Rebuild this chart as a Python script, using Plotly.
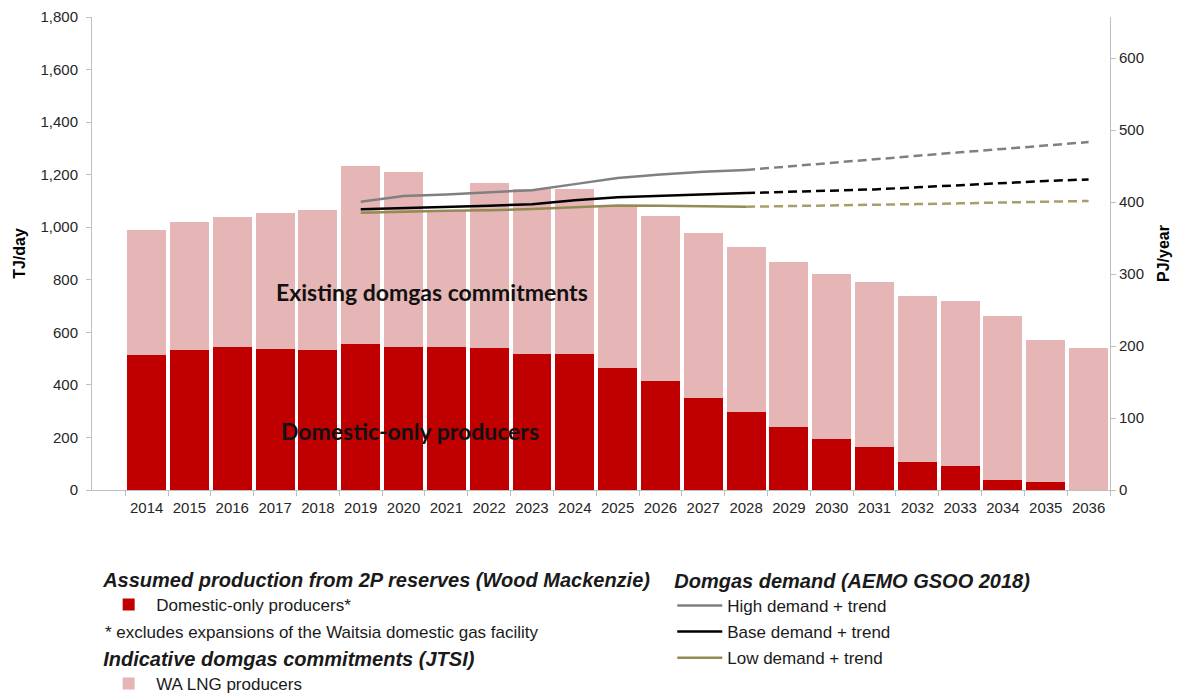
import plotly.graph_objects as go

years = [str(y) for y in range(2014, 2037)]

# total height of each bar (TJ/day) and the domestic-only part
total_supply = [988, 1020, 1038, 1056, 1066, 1232, 1212, 1066, 1168, 1145, 1147, 1086,
                1042, 978, 923, 868, 822, 790, 737, 718, 663, 569, 542]
domestic_only = [515, 533, 543, 538, 534, 557, 545, 545, 540, 517, 517, 464,
                 415, 350, 297, 241, 193, 163, 108, 91, 37, 32, 0]
wa_lng = [t - d for t, d in zip(total_supply, domestic_only)]

# demand forecasts (solid: AEMO GSOO 2018 period)
demand_years = [str(y) for y in range(2019, 2029)]
high_demand = [1097, 1119, 1125, 1133, 1141, 1164, 1187, 1201, 1211, 1218]
base_demand = [1068, 1072, 1076, 1082, 1087, 1103, 1114, 1119, 1125, 1130]
low_demand = [1055, 1060, 1063, 1065, 1069, 1076, 1083, 1082, 1080, 1078]

# trend extension (dashed)
trend_years = [str(y) for y in range(2028, 2037)]
high_trend = [1218, 1232, 1246, 1258, 1272, 1285, 1298, 1311, 1324]
base_trend = [1130, 1135, 1139, 1144, 1152, 1160, 1169, 1176, 1182]
low_trend = [1078, 1080, 1083, 1086, 1088, 1091, 1093, 1097, 1100]

left_ticks = [0, 200, 400, 600, 800, 1000, 1200, 1400, 1600, 1800]
right_ticks = [0, 100, 200, 300, 400, 500, 600]

DARK_RED = "#c00000"
PINK = "#e6b6b6"
GREY = "#808080"
OLIVE = "#948a54"
FONT = "Liberation Sans, Arial, sans-serif"

fig = go.Figure()
fig.add_trace(go.Bar(x=years, y=domestic_only, name="Domestic-only producers*",
                     marker=dict(color=DARK_RED, line=dict(width=0)), legend="legend"))
fig.add_trace(go.Bar(x=years, y=wa_lng, name="WA LNG producers",
                     marker=dict(color=PINK, line=dict(width=0)), legend="legend2"))

for name, ys, col in [("High demand + trend", high_demand, GREY),
                      ("Base demand + trend", base_demand, "#000000"),
                      ("Low demand + trend", low_demand, OLIVE)]:
    fig.add_trace(go.Scatter(x=demand_years, y=ys, mode="lines", name=name, legendgroup=name,
                             line=dict(color=col, width=2.5), legend="legend3"))
for ys, col in [(high_trend, GREY), (base_trend, "#000000"), (low_trend, "#a89e68")]:
    fig.add_trace(go.Scatter(x=trend_years, y=ys, mode="lines", showlegend=False,
                             line=dict(color=col, width=2.5, dash="9px,5px")))

# invisible helper so the right axis is laid out
fig.add_trace(go.Scatter(x=[years[0]], y=[0], yaxis="y2", mode="markers",
                         marker=dict(opacity=0), showlegend=False, hoverinfo="skip"))

axis_common = dict(showline=True, linecolor="#bfbfbf", linewidth=1, ticks="outside",
                   ticklen=5, tickcolor="#bfbfbf", showgrid=False, zeroline=False,
                   tickfont=dict(family=FONT, size=15, color="#262626"))

fig.update_layout(
    width=1184, height=695,
    margin=dict(l=92, r=74, t=17, b=205, autoexpand=False),
    paper_bgcolor="white", plot_bgcolor="white",
    barmode="stack", bargap=0.09,
    font=dict(family=FONT, size=17, color="#1a1a1a"),
    xaxis=dict(**axis_common, type="category", tickson="boundaries", ticklabelstandoff=4),
    yaxis=dict(**axis_common, range=[0, 1800], tickvals=left_ticks, tickformat=",",
               ticklabelstandoff=5,
               title=dict(text="<b>TJ/day</b>", font=dict(family=FONT, size=16, color="#000"),
                          standoff=10)),
    yaxis2=dict(**axis_common, overlaying="y", side="right", range=[0, 1800 * 0.365],
                tickvals=right_ticks,
                title=dict(text="<b>PJ/year</b>", font=dict(family=FONT, size=16, color="#000"),
                           standoff=14)),
    legend=dict(x=0.009, y=-0.150, xanchor="left", yanchor="top",
                title=dict(text="<b><i>Assumed production from 2P reserves (Wood Mackenzie)</i></b>",
                           side="top"),
                font=dict(family=FONT, size=17), itemwidth=45, bgcolor="rgba(0,0,0,0)",
                borderwidth=0),
    legend2=dict(x=0.009, y=-0.317, xanchor="left", yanchor="top",
                 title=dict(text="<b><i>Indicative domgas commitments (JTSI)</i></b>", side="top"),
                 font=dict(family=FONT, size=17), itemwidth=45, bgcolor="rgba(0,0,0,0)"),
    legend3=dict(x=0.570, y=-0.152, xanchor="left", yanchor="top",
                 title=dict(text="<b><i>Domgas demand (AEMO GSOO 2018)</i></b>", side="top"),
                 font=dict(family=FONT, size=17), itemwidth=45, bgcolor="rgba(0,0,0,0)",
                 traceorder="grouped", tracegroupgap=1),
    showlegend=True,
    annotations=[
        dict(text="<b>Existing domgas commitments</b>", x=0.334, y=0.419, xref="paper",
             yref="paper", xanchor="center", yanchor="middle", showarrow=False,
             font=dict(family="Lato", size=23, color="#111")),
        dict(text="<b>Domestic-only producers</b>", x=0.312, y=0.124, xref="paper",
             yref="paper", xanchor="center", yanchor="middle", showarrow=False,
             font=dict(family="Lato", size=23, color="#111")),
        dict(text="* excludes expansions of the Waitsia domestic gas facility", x=0.011,
             y=-0.302, xref="paper", yref="paper", xanchor="left", yanchor="middle",
             showarrow=False, font=dict(family=FONT, size=17, color="#1a1a1a")),
    ],
)

fig.write_html("out.html", config={"displayModeBar": False},
               post_script="document.body.style.margin='0';document.body.style.overflow='hidden';")
